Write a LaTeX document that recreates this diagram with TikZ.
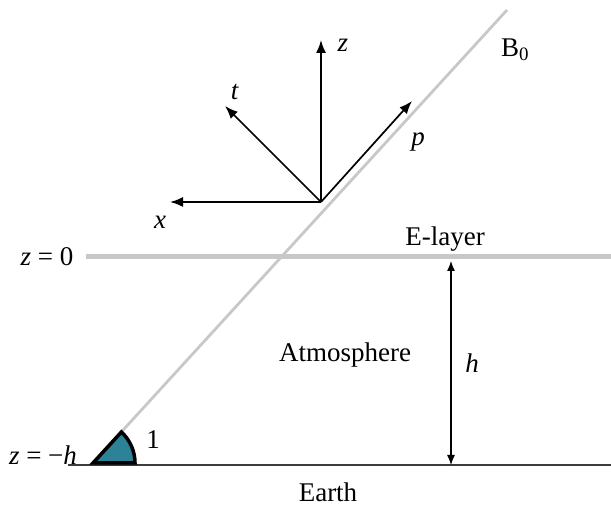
\documentclass[tikz,border=0pt]{standalone}
\usepackage{fontspec}
\setmainfont{Liberation Serif}
\usepackage{tikz}
\usetikzlibrary{arrows.meta}

\begin{document}
\begin{tikzpicture}[
  x=1pt, y=1pt,
  lbl/.style={inner sep=0pt, font=\fontsize{27}{30}\selectfont},
  glayer/.style={line width=5pt,
    color={rgb,255:red,200;green,200;blue,200}},
  gfield/.style={line width=2.8pt,
    color={rgb,255:red,200;green,200;blue,200}},
  ground/.style={line width=1.4pt,
    color={rgb,255:red,60;green,60;blue,60}},
  axarr/.style={-{Latex[length=13pt,width=10pt]}, line width=1.7pt},
  harr/.style={{Latex[length=10pt,width=8pt]}-{Latex[length=10pt,width=8pt]},
    line width=1.2pt},
  wedge/.style={line width=3.5pt, line join=miter,
    fill={rgb,255:red,44;green,130;blue,150}},
]
  \useasboundingbox (0,0) rectangle (611,506);

  %% ── Layers ──────────────────────────────────────────────────
  \coordinate (el) at (86,249);
  \coordinate (er) at (611,249);
  \coordinate (gl) at (68,41);
  \coordinate (gr) at (611,41);
  \draw[glayer] (el) -- (er);
  \draw[ground] (gl) -- (gr);

  %% ── Field line and angle ────────────────────────────────────
  \coordinate (bs) at (93,43);
  \coordinate (be) at (507,496);
  \draw[gfield] (bs) -- (be);
  \draw[wedge] (bs) -- ++(42,0)
    arc[start angle=0, end angle=47.5, radius=42] -- cycle;

  %% ── Height ──────────────────────────────────────────────────
  \coordinate (ht) at (451,245);
  \coordinate (hb) at (451,41);
  \draw[harr] (ht) -- (hb);

  %% ── Axes ────────────────────────────────────────────────────
  \coordinate (O) at (321,304);
  \coordinate (zt) at (321,466);
  \coordinate (xt) at (170,304);
  \coordinate (tt) at (225,400);
  \coordinate (ptip) at (412,405);
  \foreach \t in {zt, xt, tt, ptip}
    \draw[axarr] (O) -- (\t);

  %% ── Labels ──────────────────────────────────────────────────
  \node[lbl] (zlab) at (343,461) {\textit{z}};
  \node[lbl] (tlab) at (235,414) {\textit{t}};
  \node[lbl] (plab) at (418,364) {\textit{p}};
  \node[lbl] (xlab) at (160,284) {\textit{x}};
  \node[lbl] (blab) at (515,456) {B\textsubscript{0}};
  \node[lbl] (elab) at (445,267) {E-layer};
  \node[lbl] (z0lab) at (47,249) {\textit{z} = 0};
  \node[lbl] (zhlab) at (43,51) {\textit{z} = −\textit{h}};
  \node[lbl] (atm) at (345,151) {Atmosphere};
  \node[lbl] (hlab) at (472,143) {\textit{h}};
  \node[lbl] (earth) at (328,14) {Earth};
  \node[lbl] (one) at (153,66) {1};

\end{tikzpicture}
\end{document}
